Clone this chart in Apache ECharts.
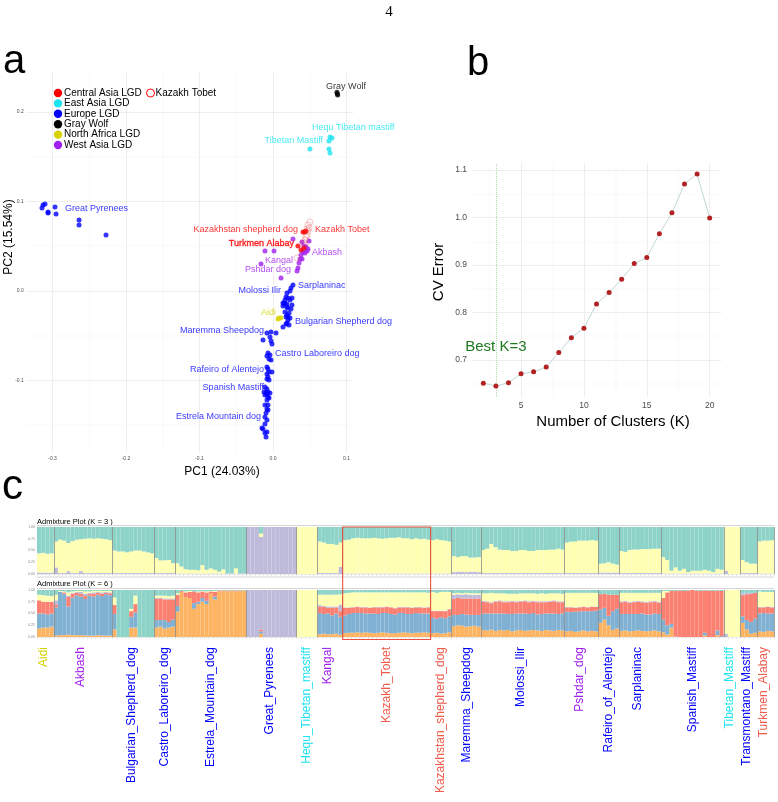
<!DOCTYPE html>
<html><head><meta charset="utf-8">
<script src="https://cdn.jsdelivr.net/npm/echarts/dist/echarts.min.js"></script>
<style>html,body{margin:0;padding:0;background:#fff}#c{width:778px;height:802px}</style>
</head><body><div id="c"></div>
<script>
const FONT = '"Liberation Sans", Arial, Helvetica, sans-serif';
const C_RED = '#ff0000', C_CYAN = '#1ee3f0', C_BLUE = '#0000ff', C_BLACK = '#000000', C_YEL = '#d6d300', C_PUR = '#a020f0', C_SALMON = '#f05a4a';

// ---------- Panel a : PCA ----------
const pcaGrayWolf = [[0.087,0.222],[0.088,0.219],[0.0875,0.2205]];
const pcaEastAsia = [[0.0776,0.1721],[0.0803,0.1709],[0.0762,0.1676],[0.0503,0.1587],[0.0762,0.1587],[0.0776,0.1542]];
const pcaCentralAsia = [[0.0408,0.0659],[0.0435,0.0659],[0.0449,0.067],[0.034,0.0503],[0.0381,0.0458],[0.0422,0.048]];
const pcaKazakhTobet = [[0.0476,0.0737],[0.049,0.0704],[0.0476,0.067],[0.0463,0.0626],[0.0435,0.057],[0.0422,0.0536],[0.0327,0.0369],[0.0449,0.0603],[0.0503,0.0771],[0.0435,0.0514],[0.0463,0.0693]];
const pcaWestAsia = [[0.0272,0.0581],[-0.0109,0.0447],[0.0014,0.0447],[-0.0163,0.0302],[0.0109,0.0145],[0.0395,0.0547],[0.049,0.0559],[0.0422,0.0503],[0.0449,0.0492],[0.0476,0.0469],[0.0408,0.0436],[0.0463,0.0447],[0.0367,0.0358],[0.0395,0.0358],[0.0354,0.0313],[0.034,0.0257],[0.0327,0.0223],[0.0435,0.0425],[0.0381,0.0402]];
const pcaNorthAfrica = [[0.0068,-0.0313],[0.0109,-0.0302],[0.0082,-0.0302]];
const pcaEurope = [
  [-0.3143,0.0927],[-0.3129,0.0961],[-0.3102,0.0972],[-0.3061,0.0883],[-0.3061,0.0872],[-0.2966,0.0939],[-0.2952,0.086],[-0.2639,0.0793],[-0.2639,0.0737],[-0.2272,0.0626],
  [0.0272,0.0067],[0.0245,0.0034],[0.0231,0.0],[0.019,-0.0022],[0.0177,-0.0067],[0.0163,-0.0101],[0.0204,-0.0078],[0.0231,-0.0101],[0.015,-0.0134],[0.019,-0.0145],
  [0.0259,-0.0156],[0.0136,-0.0168],[0.019,-0.0179],[0.0204,-0.019],[0.0245,-0.0201],[0.0163,-0.0235],[0.0218,-0.0246],[0.019,-0.0268],[0.0204,-0.0291],[0.0177,-0.0291],
  [0.0231,-0.0302],[0.0204,-0.0324],[0.019,-0.0358],[0.0136,-0.0402],[0.0218,-0.038],[0.0177,-0.0369],[0.0136,-0.0134],[0.0163,-0.0145],[0.0259,-0.0078],
  [-0.0027,-0.0458],[-0.0082,-0.0469],[0.0041,-0.0469],[-0.0041,-0.0514],[-0.0136,-0.0547],[-0.0027,-0.0559],[-0.0014,-0.0592],
  [-0.0068,-0.0693],[-0.0041,-0.0715],[-0.0082,-0.0726],[-0.0054,-0.076],[-0.0027,-0.0771],
  [-0.0082,-0.0849],[-0.0068,-0.0872],[-0.0054,-0.0905],[-0.0014,-0.0905],[-0.0082,-0.0927],[-0.0068,-0.0961],[-0.0082,-0.0983],[-0.0054,-0.0994],
  [-0.0109,-0.1073],[-0.0082,-0.1095],[-0.0068,-0.1128],[-0.0095,-0.114],[-0.0082,-0.1151],[-0.0041,-0.114],[-0.0109,-0.1162],[-0.0068,-0.1184],[-0.0054,-0.1196],[-0.0082,-0.1218],[-0.0122,-0.1128],
  [-0.0109,-0.1274],[-0.0068,-0.1274],[-0.0082,-0.1318],[-0.0068,-0.133],[-0.0095,-0.1363],[-0.0109,-0.1408],[-0.0082,-0.1441],[-0.0109,-0.1486],[-0.015,-0.1531],[-0.0136,-0.1542],[-0.0082,-0.1575],[-0.0109,-0.1587],[-0.0095,-0.1631]
];
// [text, x, y, color, side]  side: L = text ends at point, R = text starts at point, C = centred
const pcaLabels = [
  ['Gray Wolf',0.0993,0.229,C_BLACK,'C'],
  ['Hequ Tibetan mastiff',0.0517,0.1832,C_CYAN,'R'],
  ['Tibetan Mastiff',0.0694,0.1676,C_CYAN,'L'],
  ['Great Pyrenees',-0.2844,0.0916,C_BLUE,'R'],
  ['Kazakhstan shepherd dog',0.0354,0.0682,C_RED,'L'],
  ['Kazakh Tobet',0.0558,0.0682,C_RED,'R'],
  ['Turkmen Alabay',0.0299,0.0525,C_RED,'L'],
  ['Akbash',0.0517,0.0425,C_PUR,'R'],
  ['Kangal',0.0286,0.0335,C_PUR,'L'],
  ['Pshdar dog',0.0259,0.0235,C_PUR,'L'],
  ['Sarplaninac',0.0327,0.0056,C_BLUE,'R'],
  ['Molossi Ilir',0.0122,0.0,C_BLUE,'L'],
  ['Aidi',0.0054,-0.0246,C_YEL,'L'],
  ['Bulgarian Shepherd dog',0.0286,-0.0346,C_BLUE,'R'],
  ['Maremma Sheepdog',-0.0109,-0.0447,C_BLUE,'L'],
  ['Castro Laboreiro dog',0.0014,-0.0704,C_BLUE,'R'],
  ['Rafeiro of Alentejo',-0.0109,-0.0872,C_BLUE,'L'],
  ['Spanish Mastiff',-0.0109,-0.1084,C_BLUE,'L'],
  ['Estrela Mountain dog',-0.015,-0.1408,C_BLUE,'L']
];
const pcaGridX = [-0.3,-0.25,-0.2,-0.15,-0.1,-0.05,0,0.05,0.1];
const pcaGridY = [-0.15,-0.1,-0.05,0,0.05,0.1,0.15,0.2];

// ---------- Panel b : CV error ----------
const cvK = [2,3,4,5,6,7,8,9,10,11,12,13,14,15,16,17,18,19,20];
const cvError = [0.651,0.645,0.652,0.671,0.675,0.685,0.716,0.747,0.767,0.818,0.842,0.870,0.903,0.916,0.966,1.010,1.071,1.092,0.999];
const cvGridX = [2.5,5,7.5,10,12.5,15,17.5,20];
const cvGridY = [0.65,0.7,0.75,0.8,0.85,0.9,0.95,1.0,1.05,1.1];

// ---------- Panel c : admixture ----------
const admixGroups = ['Aidi','Akbash','Bulgarian_Shepherd_dog','Castro_Laboreiro_dog','Estrela_Mountain_dog','Great_Pyrenees','Hequ_Tibetan_mastiff','Kangal','Kazakh_Tobet','Kazakhstan_shepherd_dog','Maremma_Sheepdog','Molossi_Ilir','Pshdar_dog','Rafeiro_of_Alentejo','Sarplaninac','Spanish_Mastiff','Tibetan_Mastiff','Transmontano_Mastiff','Turkmen_Alabay'];
const admixGroupColor = [C_YEL,C_PUR,C_BLUE,C_BLUE,C_BLUE,C_BLUE,C_CYAN,C_PUR,C_SALMON,C_SALMON,C_BLUE,C_BLUE,C_PUR,C_BLUE,C_BLUE,C_BLUE,C_CYAN,C_BLUE,C_SALMON];
// K = 3 : teal (top) and lavender (bottom); yellow is the remainder
const k3Teal = [
 [.56,.55,.57,.56],
 [.31,.27,.29,.34,.30,.27,.26,.25,.24,.25,.24,.25,.26,.28],
 [.50,.52,.52,.54,.52,.50,.50,.52,.54,.56],
 [.66,.71,.71,.70,.77],
 [.77,.84,.90,.91,.91,.92,.81,.91,.88,.91,.95,.90,.99,.99,.88,.99,.99],
 [0,0,0,.14,0,0,0,0,0,0,0,0],
 [0,0,0,0,0],
 [.31,.33,.36,.36,.38,.33],
 [.28,.27,.24,.23,.24,.24,.24,.23,.24,.25,.24,.23,.23,.22,.24,.24,.26,.24,.26,.25,.27],
 [.28,.26,.28,.29,.31],
 [.62,.64,.62,.62,.65,.65,.64],
 [.49,.46,.36,.43,.48,.49,.49,.51,.51,.49,.49,.51,.51,.49,.49,.49,.48,.48,.46,.48],
 [.33,.31,.31,.29,.29,.29,.28,.29],
 [.78,.77,.75,.78,.80],
 [.51,.53,.49,.48,.48,.47,.47,.47,.46,.46],
 [.64,.70,.93,.86,.93,.89,.96,.93,.93,.93,.91,.93,.96,.89,.91],
 [0,0,0,0],
 [.70,.75,.78,.78],
 [.31,.29,.29,.28]
];
const k3Lav = [
 [.03,.03,.03,.03],
 [.14,.02,.02,.06,.02,.02,.06,.02,.02,.02,.02,.02,.02,.02],
 [.02,.02,.02,.02,.02,.02,.02,.02,.02,.02],
 [.02,.02,.02,.02,.02],
 [.01,.01,.01,.01,.01,.01,.01,.01,.01,.01,.01,.01,.01,.01,.01,.01,.01],
 [1,1,1,.79,1,1,1,1,1,1,1,1],
 [0,0,0,0,0],
 [.02,.02,.02,.02,.02,.15],
 [.01,.01,.01,.01,.01,.01,.01,.01,.01,.01,.01,.01,.01,.01,.01,.01,.01,.01,.01,.01,.01],
 [.01,.01,.01,.01,.01],
 [.04,.05,.05,.04,.05,.05,.04],
 [.02,.02,.02,.02,.02,.02,.02,.02,.02,.02,.02,.02,.02,.02,.02,.02,.02,.02,.02,.02],
 [.02,.02,.02,.02,.02,.02,.02,.02],
 [.03,.03,.03,.03,.03],
 [.02,.02,.02,.02,.02,.02,.02,.02,.02,.02],
 [.01,.01,.01,.01,.01,.01,.01,.01,.01,.01,.01,.01,.01,.01,.01],
 [.07,0,0,0],
 [.02,.02,.02,.02],
 [.01,.01,.01,.01]
];
// K = 6 : bottom-up orange, blue, red, lavender, yellow; teal is the remainder
const k6Orange = [
 [.18,.20,.20,.22],
 [.03,.04,.04,.05,.04,.04,.04,.03,.03,.03,.04,.03,.03,.03],
 [.16,0,0,0,.20,.20,0,0,0,0],
 [.20,.22,.18,.20,.22],
 [.54,.96,.85,.83,.60,.70,.75,.70,.92,.80,.97,.98,.97,.99,.97,.98,.99],
 [0,0,0,.07,0,0,0,0,0,0,0,0],
 [0,0,0,0,0],
 [.06,.07,.06,.06,.07,.05],
 [.08,.09,.09,.10,.09,.10,.09,.08,.09,.10,.09,.08,.08,.09,.10,.09,.08,.09,.09,.10,.09],
 [.08,.09,.07,.08,.10],
 [.23,.25,.24,.22,.23,.24,.22],
 [.15,.14,.16,.13,.15,.14,.15,.12,.14,.15,.13,.14,.15,.14,.13,.15,.14,.13,.15,.14],
 [.12,.13,.11,.12,.14,.12,.13,.12],
 [.30,.37,.25,.15,.18],
 [.13,.14,.12,.13,.14,.13,.12,.13,.14,.12],
 [.10,.05,.20,0,0,0,0,0,0,0,.03,0,0,.04,0],
 [0,0,0,0],
 [.30,.16,.07,.09],
 [.12,.11,.13,.12]
];
const k6Blue = [
 [.32,.30,.28,.28],
 [.60,.92,.88,.60,.80,.85,.82,.78,.85,.83,.86,.84,.88,.86],
 [.33,0,0,0,.23,.32,0,0,0,0],
 [.16,.14,.18,.12,.15],
 [.12,0,0,0,.12,.05,.08,.07,0,.06,0,0,0,0,0,0,0],
 [0,0,0,.05,0,0,0,0,0,0,0,0],
 [0,0,0,0,0],
 [.45,.42,.44,.40,.43,.38],
 [.38,.40,.42,.41,.42,.40,.41,.42,.40,.41,.42,.41,.40,.42,.41,.40,.41,.42,.41,.40,.41],
 [.33,.30,.35,.32,.34],
 [.24,.22,.25,.26,.24,.23,.25],
 [.35,.36,.34,.37,.35,.36,.34,.37,.36,.35,.37,.35,.36,.34,.36,.35,.36,.37,.34,.36],
 [.42,.40,.43,.42,.41,.43,.42,.44],
 [.29,.25,.20,.40,.42],
 [.36,.35,.37,.36,.35,.37,.36,.35,.36,.37],
 [.27,.20,.08,.01,0,0,0,0,0,0,.06,0,0,.10,.02],
 [0,0,0,0],
 [.14,.20,.25,.30],
 [.38,.40,.37,.38]
];
const k6Red = [
 [.28,.25,.27,.25],
 [.05,0,.03,.20,.08,.05,.06,.06,.04,.06,.04,.05,.03,.04],
 [.19,0,0,0,.12,.18,0,0,0,0],
 [.45,.46,.44,.48,.43],
 [.24,.02,.10,.13,.25,.20,.14,.18,.05,.10,.02,.01,.02,0,.02,.01,0],
 [0,0,0,.04,0,0,0,0,0,0,0,0],
 [0,0,0,0,0],
 [.14,.15,.12,.16,.13,.12],
 [.16,.13,.12,.13,.12,.13,.12,.13,.14,.12,.13,.14,.13,.12,.12,.14,.13,.12,.13,.12,.13],
 [.14,.16,.13,.15,.15],
 [.34,.36,.33,.34,.35,.34,.35],
 [.25,.24,.22,.25,.26,.24,.25,.26,.24,.25,.26,.25,.24,.26,.25,.24,.25,.26,.25,.24],
 [.09,.10,.08,.09,.09,.08,.09,.08],
 [.32,.30,.45,.35,.30],
 [.25,.26,.24,.25,.26,.24,.25,.26,.25,.24],
 [.46,.70,.70,.97,.99,.98,.99,1,.99,.98,.90,.99,.98,.85,.96],
 [0,0,0,0],
 [.45,.55,.60,.55],
 [.13,.12,.14,.13]
];
const k6Lav = [
 [0,0,0,0],
 [.10,0,0,.03,.02,.02,.04,.05,.02,.03,.02,.03,.02,.02],
 [0,0,0,0,0,0,0,0,0,0],
 [.02,.02,.02,.02,.02],
 [0,0,0,0,0,0,0,0,0,0,0,0,0,0,0,0,0],
 [1,1,1,.84,1,1,1,1,1,1,1,1],
 [0,0,0,0,0],
 [.03,.02,.03,.03,.02,.14],
 [.01,.01,.01,.01,.01,.01,.01,.01,.01,.01,.01,.01,.01,.01,.01,.01,.01,.01,.01,.01,.01],
 [.01,.01,.01,.01,.01],
 [.09,.08,.08,.09,.08,.09,.08],
 [.02,.02,.02,.02,.02,.02,.02,.02,.02,.02,.02,.02,.02,.02,.02,.02,.02,.02,.02,.02],
 [.01,.01,.01,.01,.01,.01,.01,.01],
 [0,0,0,0,0],
 [.02,.02,.02,.02,.02,.02,.02,.02,.02,.02],
 [0,0,0,0,0,0,0,0,0,0,0,0,0,0,0],
 [.07,0,0,0],
 [.04,.03,.02,0],
 [.01,.01,.01,.01]
];
const k6Yellow = [
 [.12,.14,.13,.12],
 [.12,.02,.02,.07,.03,.02,.02,.05,.03,.03,.02,.03,.02,.03],
 [.16,0,0,0,.05,.18,0,0,0,0],
 [.05,.04,.06,.05,.06],
 [.03,0,.02,.02,0,.02,.01,.02,.01,.02,0,0,0,0,0,0,0],
 [0,0,0,0,0,0,0,0,0,0,0,0],
 [1,1,1,1,1],
 [.22,.24,.25,.25,.25,.22],
 [.30,.31,.31,.30,.31,.31,.32,.31,.31,.31,.30,.31,.33,.31,.31,.31,.32,.31,.31,.32,.30],
 [.40,.38,.40,.40,.36],
 [.03,.03,.03,.03,.03,.03,.03],
 [.16,.17,.20,.16,.15,.17,.16,.15,.16,.16,.15,.17,.16,.16,.17,.16,.16,.15,.17,.16],
 [.30,.30,.31,.30,.29,.30,.29,.29],
 [0,0,0,0,0],
 [.18,.17,.19,.18,.17,.18,.19,.18,.17,.19],
 [.15,.03,0,0,0,0,0,0,0,0,0,0,0,0,0],
 [.93,1,1,1],
 [0,0,0,0],
 [.33,.32,.31,.32]
];
const SET3 = {teal:'#8dd3c7', yellow:'#ffffb3', lav:'#bebada', red:'#fb8072', blue:'#80b1d3', orange:'#fdb462'};

// ---------- build ----------
const cats = [], groupStart = [], labelIdx = new Set();
admixGroups.forEach((g, gi) => {
  const n = k3Teal[gi].length;
  groupStart.push(cats.length);
  labelIdx.add(cats.length + Math.floor((n - 1) / 2));
  for (let i = 0; i < n; i++) cats.push(g + '#' + i);
});
const sepIdx = new Set(groupStart.slice(1));
const flat = a => a.reduce((r, x) => r.concat(x), []);
const r2 = v => Math.max(0, Math.round(v * 1000) / 1000);
const K3L = flat(k3Lav), K3T = flat(k3Teal);
const K3Y = K3T.map((t, i) => r2(1 - t - K3L[i]));
const K6O = flat(k6Orange), K6B = flat(k6Blue), K6R = flat(k6Red), K6L = flat(k6Lav), K6Y = flat(k6Yellow);
const K6T = K6O.map((o, i) => r2(1 - o - K6B[i] - K6R[i] - K6L[i] - K6Y[i]));

function gridLines(xs, ys, isMajor) {
  const st = v => isMajor(v) ? {color:'#e6e6e6', width:0.7, type:'solid'} : {color:'#f1f1f1', width:0.45, type:'solid'};
  return xs.map(v => ({xAxis: v, lineStyle: st(v)})).concat(ys.map(v => ({yAxis: v, lineStyle: st(v)})));
}
const tenth = v => Math.abs(v * 10 - Math.round(v * 10)) < 1e-6;

function txt(x, y, text, o) {
  return {type:'text', x, y, rotation: o.rot || 0, silent: true, z: 50,
    style:{text, fill: o.color || '#000', font: (o.weight || 'normal') + ' ' + o.size + 'px ' + (o.family || FONT),
      textAlign: o.align || 'left', align: o.align || 'left', textVerticalAlign: o.va || 'middle', verticalAlign: o.va || 'middle'}};
}

const legendItems = [['Central Asia LGD',C_RED],['East Asia LGD',C_CYAN],['Europe LGD',C_BLUE],['Gray Wolf',C_BLACK],['North Africa LGD',C_YEL],['West Asia LGD',C_PUR]];
const graphics = [
  txt(389, 12, '4', {size:15, family:'"Liberation Serif", "DejaVu Serif", serif', align:'center'}),
  txt(3, 82, 'a', {size:40, va:'bottom'}),
  txt(467, 84, 'b', {size:40, va:'bottom'}),
  txt(2, 508, 'c', {size:42, va:'bottom'}),
  txt(222, 472, 'PC1 (24.03%)', {size:12, align:'center'}),
  txt(9, 237, 'PC2 (15.54%)', {size:12, align:'center', rot:Math.PI/2}),
  txt(439, 272, 'CV Error', {size:15, align:'center', rot:Math.PI/2}),
  txt(613, 422, 'Number of Clusters (K)', {size:15, align:'center'}),
  txt(37, 522, 'Admixture Plot (K = 3 )', {size:7.5}),
  txt(37, 584, 'Admixture Plot (K = 6 )', {size:7.5}),
  {type:'line', silent:true, z:50, shape:{x1:37, y1:525.5, x2:774, y2:525.5}, style:{stroke:'#d6d6d6', lineWidth:1}},
  {type:'line', silent:true, z:50, shape:{x1:37, y1:577, x2:774, y2:577}, style:{stroke:'#d6d6d6', lineWidth:1}},
  {type:'line', silent:true, z:50, shape:{x1:37, y1:588.5, x2:774, y2:588.5}, style:{stroke:'#d6d6d6', lineWidth:1}},
  {type:'circle', silent:true, z:50, shape:{cx:150.5, cy:93, r:4}, style:{fill:'#fff', stroke:C_RED, lineWidth:1}},
  txt(155.5, 93, 'Kazakh Tobet', {size:10})
];
legendItems.forEach((it, i) => {
  const y = 93 + i * 10.4;
  graphics.push({type:'circle', silent:true, z:50, shape:{cx:58, cy:y, r:4.2}, style:{fill:it[1]}});
  graphics.push(txt(64, y, it[0], {size:10}));
});

const scat = (name, data, color, extra) => Object.assign({
  name, type:'scatter', xAxisIndex:0, yAxisIndex:0, data, symbol:'circle', symbolSize:5,
  itemStyle:{color}, z:10, silent:true
}, extra || {});

const bestK = cvK[cvError.indexOf(Math.min.apply(null, cvError))];

const barSeries = (name, data, color, xi, stack) => ({
  name, type:'bar', xAxisIndex:xi, yAxisIndex:xi, stack, data, barCategoryGap:'0%', barGap:'0%',
  itemStyle:{color}, silent:true, z:2
});

const catAxis = (gi, showLabel) => ({
  type:'category', gridIndex:gi, data:cats, boundaryGap:true, z:10,
  axisLine:{show:true, lineStyle:{color:'#dcdcdc', width:0.5}},
  axisTick:{show:true, interval:0, length:2, lineStyle:{color:'#cfcfcf', width:0.5}},
  splitLine:{show:true, interval:(i) => sepIdx.has(i), lineStyle:{color:'#8c8c8c', width:0.8}},
  axisLabel: showLabel ? {show:true, interval:(i) => labelIdx.has(i), rotate:90, margin:10, fontSize:12, fontFamily:FONT,
    formatter:(v) => v.split('#')[0], color:(v) => admixGroupColor[admixGroups.indexOf(String(v).split('#')[0])]} : {show:false}
});
const propAxis = (gi) => ({
  type:'value', gridIndex:gi, min:0, max:1, interval:0.25,
  axisLine:{show:false}, axisTick:{show:false}, splitLine:{show:false},
  axisLabel:{fontSize:3.5, color:'#888', margin:2, formatter:(v) => v.toFixed(2)}
});
const gridMark = (xs, ys, isMajor) => ({silent:true, z:0, zlevel:0, symbol:['none','none'], label:{show:false}, animation:false, data:gridLines(xs, ys, isMajor)});

const option = {
  animation:false,
  textStyle:{fontFamily:FONT},
  grid:[
    {left:26.8, top:72.6, width:326.3, height:379.5, outerBoundsMode:'none'},
    {left:472, top:163, width:249, height:234, outerBoundsMode:'none'},
    {left:37, top:527, width:737, height:47, outerBoundsMode:'none'},
    {left:37, top:590, width:737, height:47, outerBoundsMode:'none'}
  ],
  xAxis:[
    {type:'value', gridIndex:0, min:-0.335, max:0.109, splitNumber:5, axisLine:{show:false}, axisTick:{show:false}, splitLine:{show:false},
      axisLabel:{fontSize:5, color:'#4d4d4d', margin:4, showMinLabel:false, showMaxLabel:false, formatter:(v) => v.toFixed(1)}},
    {type:'value', gridIndex:1, min:1.1, max:20.9, splitNumber:4, axisLine:{show:false}, axisTick:{show:false}, splitLine:{show:false},
      axisLabel:{fontSize:8.5, color:'#4d4d4d', margin:4, showMinLabel:false, showMaxLabel:false}},
    catAxis(2, false),
    catAxis(3, true)
  ],
  yAxis:[
    {type:'value', gridIndex:0, min:-0.18, max:0.244, splitNumber:5, axisLine:{show:false}, axisTick:{show:false}, splitLine:{show:false},
      axisLabel:{fontSize:5, color:'#4d4d4d', margin:3, showMinLabel:false, showMaxLabel:false, formatter:(v) => v.toFixed(1)}},
    {type:'value', gridIndex:1, min:0.622, max:1.115, splitNumber:5, axisLine:{show:false}, axisTick:{show:false}, splitLine:{show:false},
      axisLabel:{fontSize:8.5, color:'#4d4d4d', margin:5, showMinLabel:false, showMaxLabel:false, formatter:(v) => v.toFixed(1)}},
    propAxis(2),
    propAxis(3)
  ],
  series:[
    {type:'line', xAxisIndex:0, yAxisIndex:0, data:[], z:0, silent:true, markLine:gridMark(pcaGridX, pcaGridY, tenth)},
    scat('Europe LGD', pcaEurope, C_BLUE),
    scat('West Asia LGD', pcaWestAsia, C_PUR),
    scat('Central Asia LGD', pcaCentralAsia, C_RED),
    scat('North Africa LGD', pcaNorthAfrica, C_YEL),
    scat('East Asia LGD', pcaEastAsia, C_CYAN),
    scat('Gray Wolf', pcaGrayWolf, C_BLACK),
    scat('Kazakh Tobet', pcaKazakhTobet, 'rgba(0,0,0,0)', {symbolSize:6, itemStyle:{color:'rgba(0,0,0,0)', borderColor:'rgba(240,70,70,0.5)', borderWidth:0.8}, z:11}),
    {type:'scatter', xAxisIndex:0, yAxisIndex:0, symbolSize:0, z:12, silent:true,
      label:{show:true, fontSize:9, fontFamily:FONT, formatter:'{b}', distance:1},
      data:pcaLabels.map(l => ({name:l[0], value:[l[1], l[2]],
        label:{position: l[4] === 'L' ? 'left' : (l[4] === 'R' ? 'right' : 'inside'), color:l[3],
          textBorderColor: l[0] === 'Turkmen Alabay' ? l[3] : 'transparent', textBorderWidth: l[0] === 'Turkmen Alabay' ? 0.4 : 0}}))},
    {type:'line', xAxisIndex:1, yAxisIndex:1, data:[], z:0, silent:true,
      markLine:gridMark(cvGridX, cvGridY, v => (Math.abs(v % 5) < 1e-6) || (v < 2 && tenth(v)))},
    {type:'line', xAxisIndex:1, yAxisIndex:1, data:cvK.map((k, i) => [k, cvError[i]]), z:10, silent:true,
      symbol:'circle', symbolSize:5, showSymbol:true, itemStyle:{color:'#b22222'}, lineStyle:{color:'#b9d2d2', width:0.9},
      markLine:{silent:true, z:1, symbol:['none','none'], label:{show:false}, animation:false,
        data:[{xAxis:bestK, lineStyle:{color:'#b3d9b3', width:1, type:'dotted'}}]},
      markPoint:{silent:true, z:12, symbol:'circle', symbolSize:0, animation:false,
        data:[{coord:[bestK, 0.727], label:{show:true, position:'inside', formatter:'Best K=' + bestK, color:'#1f7a1f', fontSize:15, fontFamily:FONT}}]}},
    barSeries('K3 c3', K3L, SET3.lav, 2, 'k3'),
    barSeries('K3 c2', K3Y, SET3.yellow, 2, 'k3'),
    barSeries('K3 c1', K3T, SET3.teal, 2, 'k3'),
    barSeries('K6 c6', K6O, SET3.orange, 3, 'k6'),
    barSeries('K6 c5', K6B, SET3.blue, 3, 'k6'),
    barSeries('K6 c4', K6R, SET3.red, 3, 'k6'),
    barSeries('K6 c3', K6L, SET3.lav, 3, 'k6'),
    barSeries('K6 c2', K6Y, SET3.yellow, 3, 'k6'),
    barSeries('K6 c1', K6T, SET3.teal, 3, 'k6')
  ],
  graphic: graphics
};

const chart = echarts.init(document.getElementById('c'), null, {renderer:'canvas'});
chart.setOption(option);

// red box around the Kazakh Tobet group, positioned through the axes
const ktGi = admixGroups.indexOf('Kazakh_Tobet');
const ktFirst = groupStart[ktGi], ktLast = ktFirst + k3Teal[ktGi].length - 1;
const px = c => chart.convertToPixel({xAxisIndex:2}, c);
const bw = px(cats[1]) - px(cats[0]);
const xL = px(cats[ktFirst]) - bw / 2, xR = px(cats[ktLast]) + bw / 2;
const yT = chart.convertToPixel({yAxisIndex:2}, 1), yB = chart.convertToPixel({yAxisIndex:3}, 0) + 2.5;
graphics.push({type:'rect', silent:true, z:60, shape:{x:xL, y:yT, width:xR - xL, height:yB - yT}, style:{fill:'none', stroke:'#e8503f', lineWidth:1.1}});
chart.setOption({graphic: graphics});
</script></body></html>
